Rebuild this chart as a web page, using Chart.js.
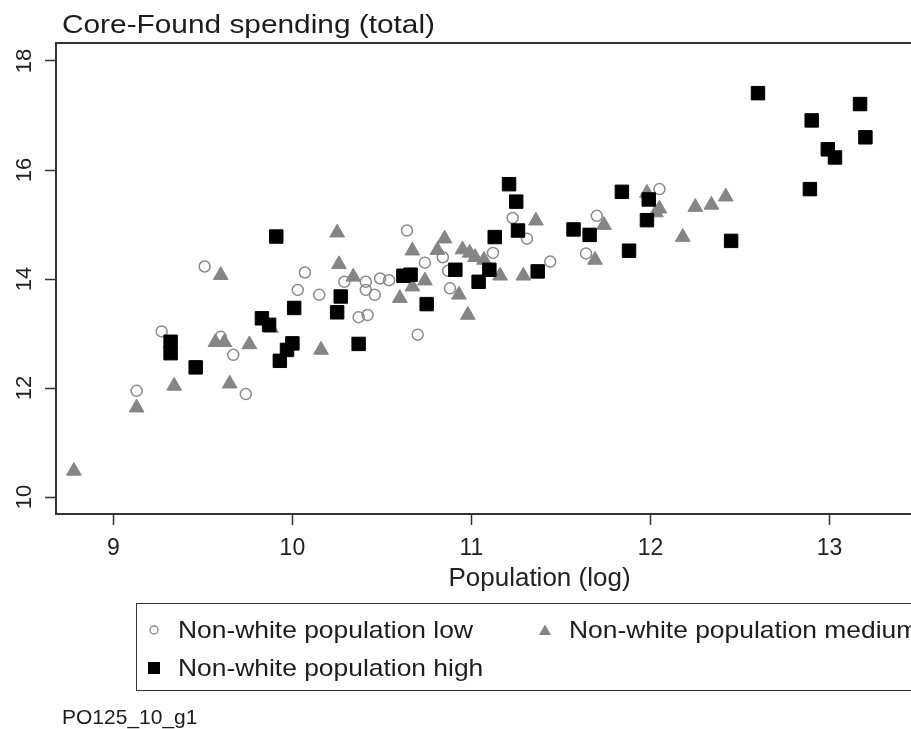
<!DOCTYPE html>
<html><head><meta charset="utf-8">
<script src="https://cdn.jsdelivr.net/npm/chart.js@4.4.1/dist/chart.umd.min.js"></script>
<style>
html,body{margin:0;padding:0;background:#fff;overflow:hidden;width:911px;height:729px;}
#wrap{position:relative;width:911px;height:729px;overflow:hidden;background:#fff;}
canvas{position:absolute;left:0;top:0;}
.t{position:absolute;font-family:"Liberation Sans",Arial,sans-serif;color:#1c1c1c;white-space:nowrap;transform-origin:0 0;}
</style></head><body>
<div id="wrap">
<canvas id="c" width="1060" height="729"></canvas>
<div class="t" style="left:62px;top:11px;font-size:26px;line-height:26px;transform:scaleX(1.147)">Core-Found spending (total)</div>
<div style="position:absolute;left:136px;top:603px;width:900px;height:88px;border:1.5px solid #333;box-sizing:border-box;"></div>
<svg style="position:absolute;left:0;top:0" width="911" height="729">
  <circle cx="154" cy="630" r="4" fill="none" stroke="#8a8a8a" stroke-width="1.3"/>
  <polygon points="539,635 551,635 545,624.5" fill="#858585"/>
  <rect x="148" y="662" width="12" height="12" fill="#000"/>
</svg>
<div class="t" style="left:178px;top:618px;font-size:24px;line-height:24px;transform:scaleX(1.1)">Non-white population low</div>
<div class="t" style="left:569px;top:618px;font-size:24px;line-height:24px;transform:scaleX(1.1)">Non-white population medium</div>
<div class="t" style="left:178px;top:656px;font-size:24px;line-height:24px;transform:scaleX(1.1)">Non-white population high</div>
<div class="t" style="left:62px;top:706px;font-size:21px;line-height:21px">PO125_10_g1</div>
</div>
<script>
const xTicks = [9, 10, 11, 12, 13];
const yTicks = [10, 12, 14, 16, 18];

const lowX = [9.13, 9.74, 9.51, 10.07, 10.03, 10.15, 9.27, 9.60, 9.67, 10.64, 11.23, 11.31, 11.12, 10.74, 10.84, 10.87, 10.29, 10.41, 10.49, 10.54, 10.41, 10.46, 10.37, 10.42, 10.70, 10.88, 11.44, 12.05, 11.70, 11.64];
const lowY = [11.95, 11.89, 14.23, 14.12, 13.80, 13.71, 13.04, 12.94, 12.61, 14.89, 15.12, 14.74, 14.48, 14.30, 14.40, 14.15, 13.95, 13.95, 14.01, 13.98, 13.80, 13.71, 13.30, 13.34, 12.98, 13.83, 14.32, 15.65, 15.16, 14.47];

const medX = [8.78, 9.13, 9.34, 9.65, 9.60, 10.25, 10.26, 10.16, 9.57, 9.62, 9.76, 9.88, 11.36, 10.85, 10.67, 10.81, 10.95, 10.99, 11.02, 11.07, 10.74, 10.60, 10.67, 10.34, 10.93, 10.98, 11.16, 11.29, 11.74, 11.69, 11.98, 12.05, 12.03, 12.25, 12.34, 12.42, 12.18];
const medY = [10.48, 11.64, 12.04, 12.08, 14.07, 14.85, 14.27, 12.70, 12.84, 12.84, 12.80, 13.10, 15.07, 14.74, 14.52, 14.53, 14.54, 14.48, 14.40, 14.35, 13.97, 13.65, 13.86, 14.04, 13.71, 13.34, 14.06, 14.06, 14.99, 14.35, 15.58, 15.29, 15.22, 15.32, 15.36, 15.51, 14.77];

const highX = [9.91, 10.01, 10.27, 10.25, 9.83, 9.87, 10.00, 9.97, 9.93, 9.32, 9.32, 9.46, 11.25, 11.21, 11.26, 11.57, 10.91, 10.62, 10.66, 10.37, 10.75, 11.04, 11.10, 11.37, 11.13, 11.66, 11.84, 11.99, 11.98, 11.88, 12.45, 12.60, 13.17, 12.90, 13.20, 12.99, 13.03, 12.89];
const highY = [14.78, 13.47, 13.68, 13.39, 13.28, 13.16, 12.82, 12.70, 12.50, 12.85, 12.64, 12.38, 15.42, 15.74, 14.89, 14.91, 14.17, 14.06, 14.08, 12.81, 13.54, 13.95, 14.17, 14.14, 14.77, 14.81, 15.60, 15.46, 15.08, 14.52, 14.70, 17.41, 17.21, 16.91, 16.60, 16.38, 16.23, 15.65];

const seriesNames = ['Non-white population low', 'Non-white population medium', 'Non-white population high'];
const FONT = '"Liberation Sans", Arial, sans-serif';

function pts(xs, ys) { return xs.map((x, i) => ({x: x, y: ys[i]})); }

const frame = {
  id: 'frame',
  beforeDatasetsDraw(chart) {
    const a = chart.chartArea, ctx = chart.ctx;
    ctx.save();
    ctx.strokeStyle = '#333';
    ctx.lineWidth = 2;
    ctx.strokeRect(a.left, a.top, a.right - a.left, a.bottom - a.top);
    ctx.restore();
  }
};

new Chart(document.getElementById('c'), {
  type: 'scatter',
  data: {
    datasets: [
      {label: seriesNames[0], data: pts(lowX, lowY), pointStyle: 'circle', pointRadius: 5.5, pointBorderWidth: 1.5,
       pointBorderColor: '#8a8a8a', pointBackgroundColor: 'rgba(0,0,0,0)', order: 2},
      {label: seriesNames[1], data: pts(medX, medY), pointStyle: 'triangle', pointRadius: 8.5, pointBorderWidth: 1,
       pointBorderColor: '#858585', pointBackgroundColor: '#858585', order: 1},
      {label: seriesNames[2], data: pts(highX, highY), pointStyle: 'rect', pointRadius: 9.5, pointBorderWidth: 1,
       pointBorderColor: '#000', pointBackgroundColor: '#000', order: 0}
    ]
  },
  options: {
    responsive: false,
    devicePixelRatio: 1,
    animation: false,
    events: [],
    layout: {padding: {left: 0, top: 43, right: 37, bottom: 135}},
    plugins: {legend: {display: false}, tooltip: {enabled: false}, title: {display: false}},
    scales: {
      x: {
        type: 'linear', position: 'bottom', min: 8.68, max: 14.08,
        afterBuildTicks: s => { s.ticks = xTicks.map(v => ({value: v})); },
        afterFit: s => { s.height = 80; },
        grid: {drawOnChartArea: false, drawTicks: true, tickLength: 11, color: '#333', tickWidth: 1.5},
        border: {display: false},
        ticks: {autoSkip: false, maxRotation: 0, minRotation: 0, padding: 10, color: '#222', font: {family: FONT, size: 23}},
        title: {display: true, text: 'Population (log)', color: '#222', font: {family: FONT, size: 26}, padding: {top: 0, bottom: 0}}
      },
      y: {
        type: 'linear', position: 'left', min: 9.69, max: 18.33,
        afterBuildTicks: s => { s.ticks = yTicks.map(v => ({value: v})); },
        afterFit: s => { s.width = 56; },
        grid: {drawOnChartArea: false, drawTicks: true, tickLength: 11, color: '#333', tickWidth: 1.5},
        border: {display: false},
        ticks: {autoSkip: false, minRotation: 90, maxRotation: 90, crossAlign: 'center', padding: 8, color: '#222', font: {family: FONT, size: 22}}
      }
    }
  },
  plugins: [frame]
});
</script>
</body></html>
